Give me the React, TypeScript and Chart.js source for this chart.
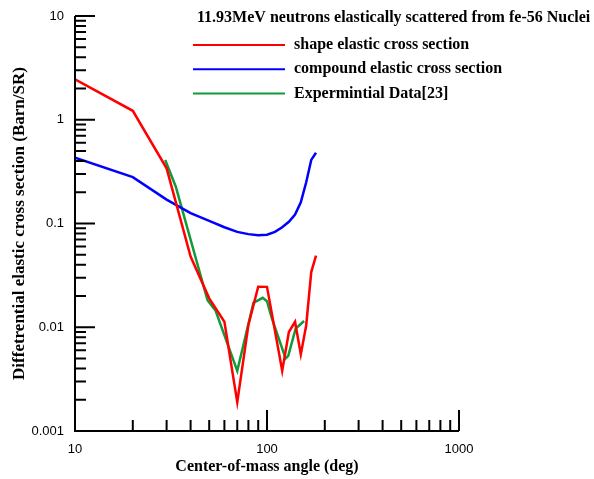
import React, { useEffect, useRef } from "react";
import { Chart, registerables } from "chart.js";

Chart.register(...registerables);

const chartTitle = "11.93MeV neutrons elastically scattered from fe-56 Nuclei";
const xAxisTitle = "Center-of-mass angle (deg)";
const yAxisTitle = "Diffetrential elastic cross section (Barn/SR)";

const xTickLabels = ["10", "100", "1000"];
const yTickLabels = ["0.001", "0.01", "0.1", "1", "10"];

const shapeLabel = "shape elastic cross section";
const shapeAngles = [10, 20, 30, 40, 50, 60, 70, 80, 90, 100, 120, 130, 140, 150, 160, 170, 180];
const shapeValues = [2.45, 1.22, 0.34, 0.048, 0.019, 0.0113, 0.0019, 0.0105, 0.0246, 0.0245, 0.0038, 0.009, 0.0113, 0.0055, 0.0104, 0.034, 0.049];

const compoundLabel = "compound elastic cross section";
const compoundAngles = [10, 20, 30, 40, 50, 60, 70, 80, 90, 100, 110, 120, 130, 140, 150, 160, 170, 180];
const compoundValues = [0.43, 0.28, 0.17, 0.126, 0.106, 0.092, 0.083, 0.079, 0.077, 0.078, 0.083, 0.092, 0.104, 0.122, 0.16, 0.25, 0.41, 0.48];

const expLabel = "Expermintial Data[23]";
const expAngles = [29.5, 33.5, 49, 54, 70, 85, 95, 100, 106, 125, 129, 141, 156];
const expValues = [0.41, 0.226, 0.0182, 0.0144, 0.0038, 0.0172, 0.0192, 0.0178, 0.0122, 0.005, 0.0053, 0.0097, 0.0115];

const toPoints = (xs: number[], ys: number[]) => xs.map((x, i) => ({ x, y: ys[i] }));

const SERIF = '"Liberation Serif", "Times New Roman", serif';
const SANS = '"Liberation Sans", Arial, sans-serif';

const axesPlugin = {
  id: "customAxes",
  afterDraw(chart: any) {
    const { ctx, chartArea, scales } = chart;
    const xs = scales.x;
    const ys = scales.y;
    const xMin = Number(xTickLabels[0]);
    const xMax = Number(xTickLabels[xTickLabels.length - 1]);
    const yMin = Number(yTickLabels[0]);
    const yMax = Number(yTickLabels[yTickLabels.length - 1]);
    const x0 = xs.getPixelForValue(xMin);
    const x1 = xs.getPixelForValue(xMax);
    const y0 = ys.getPixelForValue(yMin);
    const y1 = ys.getPixelForValue(yMax);

    ctx.save();
    ctx.strokeStyle = "#000";
    ctx.lineWidth = 2;
    ctx.lineCap = "butt";
    ctx.beginPath();
    ctx.moveTo(x0, y1);
    ctx.lineTo(x0, y0);
    ctx.lineTo(x1, y0);
    ctx.stroke();

    ctx.beginPath();
    for (let d = Math.log10(yMin); d <= Math.log10(yMax) + 1e-9; d++) {
      for (let k = 1; k <= 9; k++) {
        const v = k * Math.pow(10, d);
        if (v > yMax * 1.0001) break;
        const p = ys.getPixelForValue(v);
        const len = k === 1 ? 20 : 11;
        ctx.moveTo(x0, p);
        ctx.lineTo(x0 + len, p);
      }
    }
    for (let d = Math.log10(xMin); d <= Math.log10(xMax) + 1e-9; d++) {
      for (let k = 1; k <= 9; k++) {
        const v = k * Math.pow(10, d);
        if (v > xMax * 1.0001) break;
        const p = xs.getPixelForValue(v);
        const len = k === 1 ? 21 : 11;
        ctx.moveTo(p, y0);
        ctx.lineTo(p, y0 - len);
      }
    }
    ctx.stroke();

    ctx.fillStyle = "#000";
    ctx.font = `13px ${SANS}`;
    ctx.textAlign = "right";
    ctx.textBaseline = "middle";
    yTickLabels.forEach((t) => {
      ctx.fillText(t, x0 - 11, ys.getPixelForValue(Number(t)));
    });
    ctx.textAlign = "center";
    xTickLabels.forEach((t) => {
      ctx.fillText(t, xs.getPixelForValue(Number(t)), y0 + 18);
    });

    ctx.textAlign = "center";
    ctx.textBaseline = "middle";
    ctx.font = `bold 16px ${SERIF}`;
    ctx.fillText(xAxisTitle, (chartArea.left + chartArea.right) / 2, y0 + 36);
    ctx.save();
    ctx.font = `bold 17px ${SERIF}`;
    ctx.translate(20, (chartArea.top + chartArea.bottom) / 2);
    ctx.rotate(-Math.PI / 2);
    ctx.fillText(yAxisTitle, 0, 0);
    ctx.restore();

    ctx.textAlign = "left";
    ctx.font = `bold 16px ${SERIF}`;
    ctx.fillText(chartTitle, 197, 18);
    chart.data.datasets.forEach((ds: any, i: number) => {
      const y = 45 + i * 24.2;
      ctx.strokeStyle = ds.borderColor;
      ctx.lineWidth = 2;
      ctx.beginPath();
      ctx.moveTo(193, y);
      ctx.lineTo(285, y);
      ctx.stroke();
      ctx.fillStyle = "#000";
      ctx.fillText(ds.label, 294, y);
    });
    ctx.restore();
  },
};

export default function App() {
  const ref = useRef<HTMLCanvasElement | null>(null);

  useEffect(() => {
    if (!ref.current) return;
    const chart = new Chart(ref.current, {
      type: "line",
      data: {
        datasets: [
          {
            label: shapeLabel,
            data: toPoints(shapeAngles, shapeValues),
            borderColor: "#ff0000",
            borderWidth: 2.5,
            pointRadius: 0,
            tension: 0,
            fill: false,
          },
          {
            label: compoundLabel,
            data: toPoints(compoundAngles, compoundValues),
            borderColor: "#0000ff",
            borderWidth: 2.5,
            pointRadius: 0,
            tension: 0,
            fill: false,
          },
          {
            label: expLabel,
            data: toPoints(expAngles, expValues),
            borderColor: "#12993a",
            borderWidth: 2.5,
            pointRadius: 0,
            tension: 0,
            fill: false,
          },
        ],
      },
      options: {
        responsive: false,
        animation: false,
        layout: { padding: { left: 75, right: 135, top: 16, bottom: 48 } },
        plugins: {
          legend: { display: false },
          tooltip: { enabled: false },
          title: { display: false },
        },
        scales: {
          x: {
            type: "logarithmic",
            min: Number(xTickLabels[0]),
            max: Number(xTickLabels[xTickLabels.length - 1]),
            display: false,
          },
          y: {
            type: "logarithmic",
            min: Number(yTickLabels[0]),
            max: Number(yTickLabels[yTickLabels.length - 1]),
            display: false,
          },
        },
      },
      plugins: [axesPlugin],
    } as any);
    return () => chart.destroy();
  }, []);

  return (
    <div style={{ position: "absolute", left: 0, top: 0, width: 594, height: 479, background: "#fff" }}>
      <canvas ref={ref} width={594} height={479} style={{ display: "block", width: 594, height: 479 }} />
    </div>
  );
}
